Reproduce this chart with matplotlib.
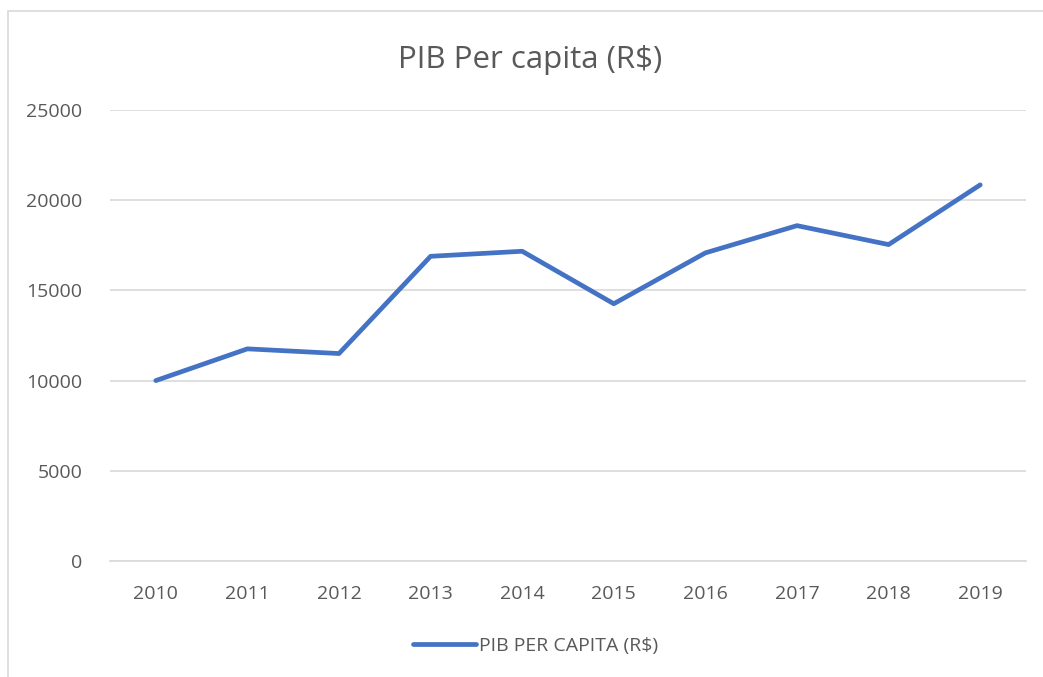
import matplotlib
matplotlib.use('Agg')
import matplotlib.pyplot as plt
from matplotlib.patches import Rectangle

# data
years = ['2010', '2011', '2012', '2013', '2014', '2015', '2016', '2017', '2018', '2019']
pib_per_capita = [10000, 11760, 11500, 16890, 17170, 14260, 17080, 18590, 17540, 20850]
y_ticks = [0, 5000, 10000, 15000, 20000, 25000]

plt.rcParams['font.family'] = ['Open Sans', 'DejaVu Sans']
text_color = '#595959'

W, H = 1043, 677
fig = plt.figure(figsize=(W / 100, H / 100), dpi=100)

# chart border like in Excel
fig.patches.append(Rectangle((8 / W, -0.05), 1.2, 1.05 - 11 / H, transform=fig.transFigure,
                             fill=False, edgecolor='#D9D9D9', linewidth=1.2))

ax = fig.add_axes([110 / W, 1 - 561 / H, (1026 - 110) / W, (561 - 110) / H])

x = range(len(years))
line, = ax.plot(x, pib_per_capita, color='#4472C4', linewidth=3.4,
                solid_capstyle='round', solid_joinstyle='round',
                label='PIB PER CAPITA (R$)')

ax.set_xlim(-0.5, len(years) - 0.5)
ax.set_ylim(0, 25000)
ax.set_yticks(y_ticks)
ax.set_yticklabels([str(v) for v in y_ticks])
ax.set_xticks(list(x))
ax.set_xticklabels(years)
ax.yaxis.grid(True, color='#D9D9D9', linewidth=1.2)
ax.set_axisbelow(True)

for s in ['top', 'right', 'left']:
    ax.spines[s].set_visible(False)
ax.spines['bottom'].set_color('#D9D9D9')
ax.spines['bottom'].set_linewidth(1.2)
ax.tick_params(axis='both', length=0, labelsize=14, colors=text_color)
ax.tick_params(axis='y', pad=20)
ax.tick_params(axis='x', pad=17)

fig.text(530 / W, 1 - 60 / H, 'PIB Per capita (R$)', ha='center', va='center',
         fontsize=22.5, color=text_color)

leg = fig.legend(handles=[line], loc='center', bbox_to_anchor=(536 / W, 1 - 646 / H),
                 frameon=False, fontsize=14, handlelength=3.2, handletextpad=0.2)
for t in leg.get_texts():
    t.set_color(text_color)

fig.savefig('out.png', dpi=100)
